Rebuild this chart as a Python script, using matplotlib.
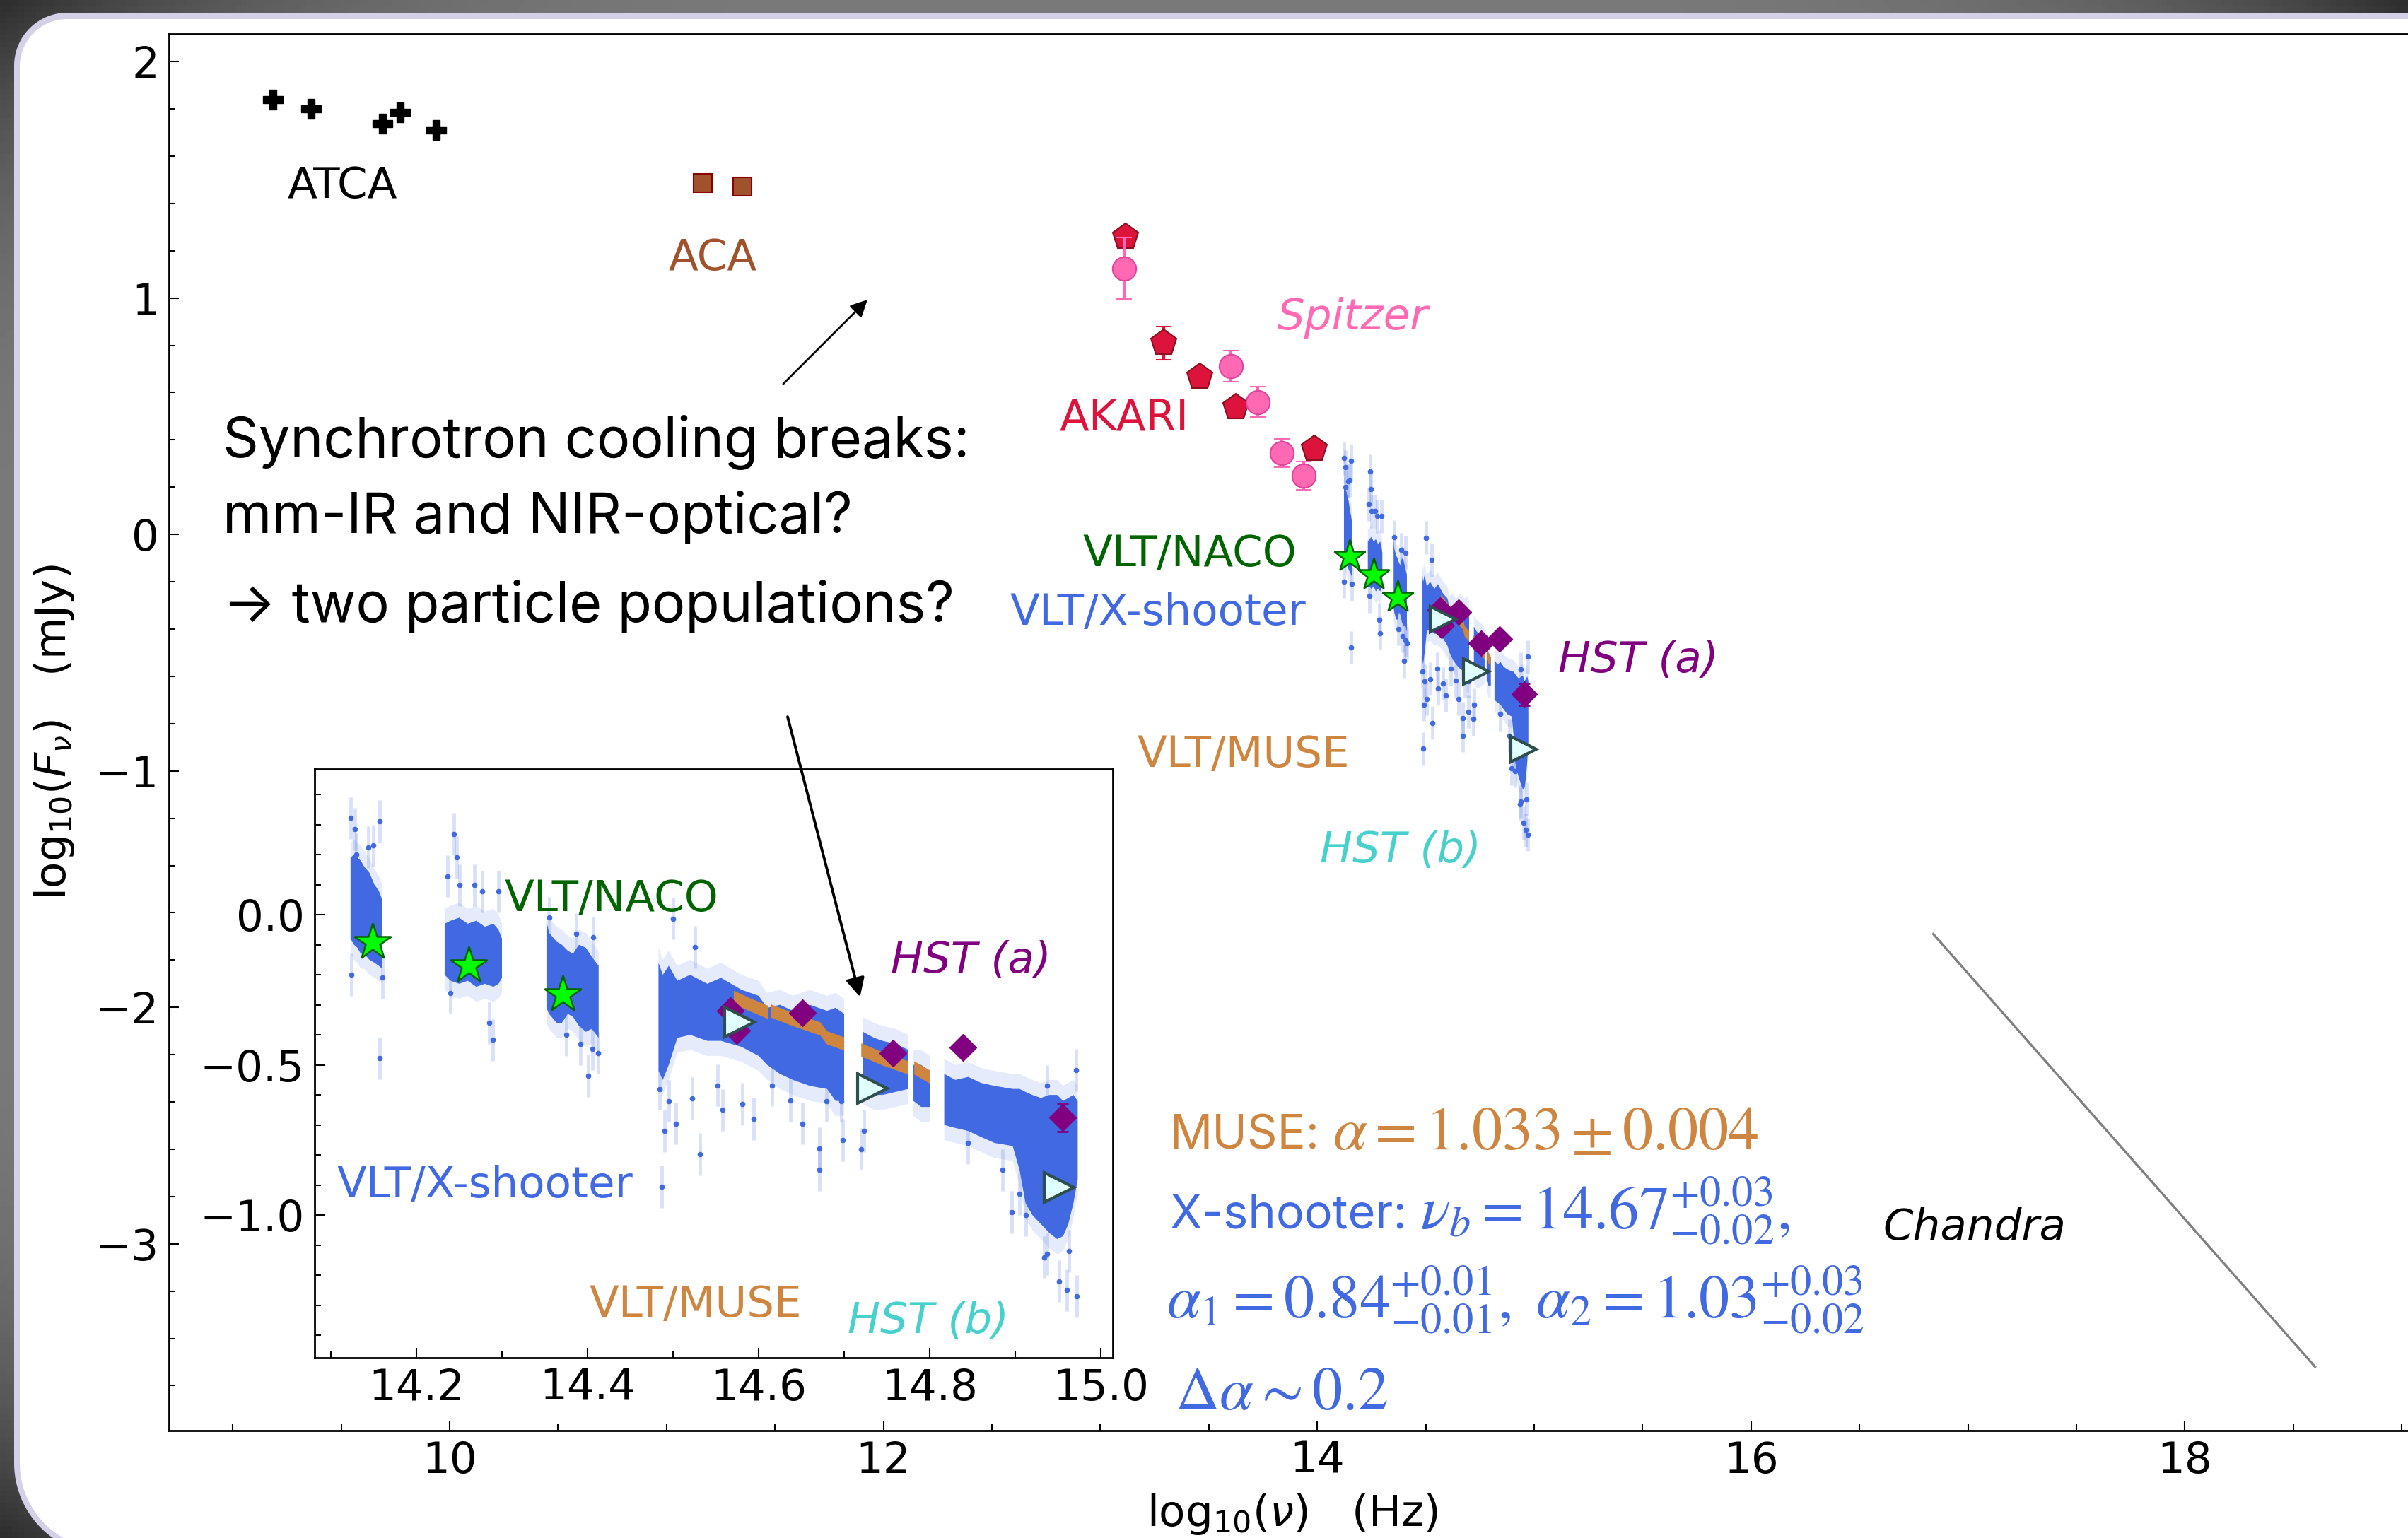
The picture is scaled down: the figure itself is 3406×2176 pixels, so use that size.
import numpy as np
import matplotlib
matplotlib.use("Agg")
import matplotlib.pyplot as plt
from matplotlib.patches import Polygon
from matplotlib.ticker import MultipleLocator

nan = np.nan

# ---- photometry: log10(nu / Hz), log10(F_nu / mJy) ----
atca_x = [9.185, 9.361, 9.690, 9.772, 9.938]
atca_y = [1.839, 1.800, 1.737, 1.785, 1.710]

aca_x = [11.167, 11.349]
aca_y = [1.486, 1.471]

akari_x = [13.115, 13.292, 13.459, 13.626, 13.987]
akari_y = [1.259, 0.810, 0.668, 0.538, 0.362]
akari_err = [0.03, 0.07, 0.03, 0.03, 0.03]

spitzer_x = [13.110, 13.602, 13.727, 13.837, 13.937]
spitzer_y = [1.126, 0.712, 0.561, 0.344, 0.249]
spitzer_err = [0.13, 0.066, 0.063, 0.060, 0.060]

naco_x = [14.149, 14.261, 14.371]
naco_y = [-0.092, -0.169, -0.266]

hst_a_x = [14.567, 14.574, 14.651, 14.757, 14.839, 14.955]
hst_a_y = [-0.319, -0.385, -0.327, -0.461, -0.442, -0.676]
hst_a_err = [0.0, 0.0, 0.0, 0.0, 0.0, 0.047]

hst_b_x = [14.578, 14.733, 14.951]
hst_b_y = [-0.358, -0.578, -0.909]

# X-shooter spectrum: dense envelope per arm chunk (NaN = gap)
xs_x = [14.123, 14.127, 14.131, 14.135, 14.139, 14.145, 14.151, 14.156, 14.160, nan,
        14.233, 14.240, 14.250, 14.260, 14.270, 14.280, 14.290, 14.296, 14.300, nan,
        14.352, 14.355, 14.358, 14.364, 14.370, 14.377, 14.383, 14.390, 14.398, 14.405, 14.413, nan,
        14.483, 14.488, 14.495, 14.505, 14.520, 14.540, 14.556, 14.580, 14.600, 14.610,
        14.625, 14.640, 14.660, 14.680, 14.690, 14.700, nan,
        14.722, 14.735, 14.745, 14.760, 14.775, nan,
        14.781, 14.790, 14.800, nan,
        14.817, 14.830, 14.845, 14.860, 14.876, 14.897, 14.905, 14.912, 14.920, 14.930,
        14.940, 14.949, 14.956, 14.962, 14.968, 14.973]
xs_top = [0.19, 0.20, 0.19, 0.18, 0.16, 0.14, 0.10, 0.08, 0.05, nan,
          -0.03, -0.02, -0.01, -0.03, -0.02, -0.04, -0.03, -0.05, -0.08, nan,
          -0.02, -0.06, -0.07, -0.09, -0.10, -0.12, -0.13, -0.10, -0.11, -0.14, -0.17, nan,
          -0.16, -0.20, -0.17, -0.22, -0.20, -0.23, -0.21, -0.25, -0.27, -0.31,
          -0.30, -0.32, -0.30, -0.32, -0.31, -0.33, nan,
          -0.39, -0.41, -0.42, -0.43, -0.45, nan,
          -0.50, -0.50, -0.52, nan,
          -0.53, -0.55, -0.54, -0.56, -0.57, -0.58, -0.58, -0.59, -0.60, -0.61,
          -0.60, -0.60, -0.62, -0.61, -0.60, -0.62]
xs_bot = [-0.08, -0.10, -0.11, -0.13, -0.13, -0.15, -0.16, -0.17, -0.18, nan,
          -0.20, -0.22, -0.23, -0.22, -0.24, -0.23, -0.24, -0.23, -0.21, nan,
          -0.31, -0.33, -0.34, -0.36, -0.36, -0.33, -0.34, -0.37, -0.39, -0.38, -0.41, nan,
          -0.52, -0.55, -0.50, -0.41, -0.40, -0.42, -0.42, -0.44, -0.47, -0.50,
          -0.53, -0.55, -0.57, -0.58, -0.62, -0.62, nan,
          -0.58, -0.60, -0.60, -0.59, -0.58, nan,
          -0.62, -0.64, -0.64, nan,
          -0.70, -0.71, -0.72, -0.74, -0.76, -0.77, -0.85, -0.96, -1.00, -1.03,
          -1.06, -1.08, -1.07, -1.03, -0.96, -0.88]

# isolated X-shooter pixels outside the dense envelope
xs_out_x = [14.123, 14.128, 14.130, 14.144, 14.150, 14.157, 14.157, 14.124, 14.160,
            14.236, 14.244, 14.247, 14.250, 14.268, 14.277, 14.285, 14.289, 14.296, 14.240,
            14.355, 14.387, 14.392, 14.401, 14.406, 14.407, 14.375, 14.412,
            14.487, 14.495, 14.500, 14.503, 14.522, 14.526, 14.531, 14.490, 14.484,
            14.552, 14.558, 14.581, 14.594, 14.616, 14.637, 14.651, 14.671, 14.671,
            14.679, 14.697, 14.698, 14.720, 14.723,
            14.845, 14.885, 14.896, 14.905, 14.912, 14.934, 14.937, 14.951, 14.960,
            14.963, 14.972, 14.971, 14.937]
xs_out_y = [0.322, 0.285, 0.200, 0.225, 0.230, 0.311, -0.478, -0.200, -0.210,
            0.128, 0.268, 0.191, 0.098, 0.098, 0.077, -0.360, -0.417, 0.077, -0.260,
            -0.010, -0.064, -0.430, -0.536, -0.447, -0.076, -0.400, -0.460,
            -0.906, -0.620, -0.013, -0.695, -0.612, -0.108, -0.797, -0.720, -0.580,
            -0.568, -0.650, -0.630, -0.680, -0.568, -0.619, -0.695, -0.778, -0.850,
            -0.620, -0.620, -0.750, -0.780, -0.720,
            -0.760, -0.850, -0.990, -0.930, -1.000, -1.140, -1.130, -1.220, -1.250,
            -1.120, -1.270, -0.517, -0.570]

# MUSE spectrum (NaN = gap)
muse_x = [14.571, 14.590, 14.611, nan, 14.614, 14.641, 14.672, 14.680, 14.700, nan,
          14.720, 14.745, 14.775, nan, 14.782, 14.800]
muse_y = [-0.275, -0.300, -0.325, nan, -0.320, -0.350, -0.380, -0.410, -0.430, nan,
          -0.450, -0.480, -0.510, nan, -0.510, -0.540]

chandra_x = [16.84, 18.60]
chandra_y = [-1.69, -3.52]

W, H = 3406, 2176
plt.rcParams["font.family"] = "DejaVu Sans"
plt.rcParams["font.size"] = 44
SANS = ["Inter", "DejaVu Sans"]

fig = plt.figure(figsize=(W / 100, H / 100), dpi=100)

# slide background: grey vignette + rounded white panel with lavender rim
bg = fig.add_axes([0, 0, 1, 1], zorder=-5)
u, v = np.meshgrid(np.linspace(-1, 1, 400), np.linspace(-1, 1, 260))
shade = 0.48 - 0.30 * np.abs(u) ** 4 * np.abs(v) ** 4
bg.imshow(shade, cmap="gray", vmin=0, vmax=1, extent=[0, W, H, 0], aspect="auto")


def panel(x0, y0, x1, y1, r_tl, r_bl):
    t = np.linspace(0, np.pi / 2, 40)
    tl = np.column_stack([x0 + r_tl - r_tl * np.cos(t), y0 + r_tl - r_tl * np.sin(t)])
    bl = np.column_stack([x0 + r_bl - r_bl * np.sin(t), y1 - r_bl + r_bl * np.cos(t)])
    return np.vstack([tl, [(x1, y0), (x1, y1)], bl])


bg.add_patch(Polygon(panel(20, 18, W + 200, 2200, 75, 130), closed=True, fc="#d4d0e8", ec="none"))
bg.add_patch(Polygon(panel(28, 27, W + 200, 2192, 67, 122), closed=True, fc="white", ec="none"))
bg.set_xlim(0, W)
bg.set_ylim(H, 0)
bg.axis("off")

# main SED axes (right edge runs past the slide)
ax = fig.add_axes([239 / W, (H - 2024) / H, (3489 - 239) / W, (2024 - 48) / H])
ax.set_xlim(8.706, 19.299)
ax.set_ylim(-3.79, 2.117)

# zoomed inset on the NIR-optical part
axins = fig.add_axes([445 / W, (H - 1921) / H, (1574 - 445) / W, (1921 - 1088) / H])
axins.set_xlim(14.081, 15.014)
axins.set_ylim(-1.475, 0.485)


def draw_optical(a, star_ms, dia_ms, tri_ms):
    xx = np.array(xs_x)
    top = np.array(xs_top)
    bot = np.array(xs_bot)
    a.fill_between(xx, bot - 0.05, top + 0.05, color="royalblue", alpha=0.13, lw=0, zorder=1.5)
    a.fill_between(xx, bot, top, color="royalblue", lw=0, zorder=2)
    a.errorbar(xs_out_x, xs_out_y, yerr=0.07, fmt="o", ms=4.5, color="royalblue",
               ecolor=(0.255, 0.41, 0.882, 0.2), elinewidth=3.5, capsize=0, zorder=2)
    my = np.array(muse_y)
    a.fill_between(muse_x, my - 0.022, my + 0.022, color="peru", lw=0, zorder=2.5)
    a.plot(naco_x, naco_y, ls="none", marker="*", ms=star_ms, mfc="lime", mec="darkgreen",
           mew=1.8, zorder=4)
    a.errorbar(hst_a_x, hst_a_y, yerr=hst_a_err, fmt="D", ms=dia_ms, color="purple",
               mec="purple", capsize=6, capthick=2, elinewidth=2, zorder=5)
    a.plot(hst_b_x, hst_b_y, ls="none", marker=">", ms=tri_ms, mfc="lightcyan",
           mec="darkslategray", mew=3, zorder=6)


ax.plot(atca_x, atca_y, ls="none", marker="P", ms=20, color="black", zorder=3)
ax.plot(aca_x, aca_y, ls="none", marker="s", ms=19, mfc="sienna", mec="darkred", mew=1.5, zorder=3)
ax.errorbar(akari_x, akari_y, yerr=akari_err, fmt="p", ms=28, color="crimson", mec="#8b1020",
            mew=1.5, capsize=8, capthick=3, elinewidth=3, zorder=3)
ax.errorbar(spitzer_x, spitzer_y, yerr=spitzer_err, fmt="o", ms=24, color="hotpink",
            mec="#e0449c", mew=1.5, capsize=8, capthick=3, elinewidth=3, zorder=3.5)
draw_optical(ax, 34, 18, 26)
ax.plot(chandra_x, chandra_y, color="gray", lw=2.4)

draw_optical(axins, 39, 19, 30)

# labels in the main panel
ax.text(9.505, 1.474, "ATCA", color="black", ha="center", va="center")
ax.text(11.212, 1.169, "ACA", color="sienna", ha="center", va="center")
ax.text(14.164, 0.916, "Spitzer", color="hotpink", style="italic", ha="center", va="center")
ax.text(13.109, 0.487, "AKARI", color="crimson", ha="center", va="center")
ax.text(13.413, -0.084, "VLT/NACO", color="darkgreen", ha="center", va="center")
ax.text(13.265, -0.332, "VLT/X-shooter", color="royalblue", ha="center", va="center")
ax.text(15.481, -0.532, "HST (a)", color="purple", style="italic", ha="center", va="center")
ax.text(13.661, -0.934, "VLT/MUSE", color="peru", ha="center", va="center")
ax.text(14.384, -1.337, "HST (b)", color="mediumturquoise", style="italic", ha="center", va="center")
ax.text(17.031, -2.935, "Chandra", color="black", style="italic", ha="center", va="center")

# labels in the inset
axins.text(14.428, 0.050, "VLT/NACO", color="darkgreen", ha="center", va="center")
axins.text(14.848, -0.155, "HST (a)", color="purple", style="italic", ha="center", va="center")
axins.text(14.280, -0.901, "VLT/X-shooter", color="royalblue", ha="center", va="center")
axins.text(14.526, -1.300, "VLT/MUSE", color="peru", ha="center", va="center")
axins.text(14.798, -1.355, "HST (b)", color="mediumturquoise", style="italic", ha="center", va="center")

# axes styling
for a in (ax, axins):
    a.tick_params(which="both", direction="in", top=False, right=False, labelsize=44,
                  width=1.5, pad=10)
    a.tick_params(which="major", length=10)
    a.tick_params(which="minor", length=6.5)
    for s in a.spines.values():
        s.set_linewidth(2)
ax.xaxis.set_major_locator(MultipleLocator(2))
ax.xaxis.set_minor_locator(MultipleLocator(0.5))
ax.yaxis.set_major_locator(MultipleLocator(1))
ax.yaxis.set_minor_locator(MultipleLocator(0.2))
axins.xaxis.set_major_locator(MultipleLocator(0.2))
axins.xaxis.set_minor_locator(MultipleLocator(0.1))
axins.yaxis.set_major_locator(MultipleLocator(0.5))
axins.yaxis.set_minor_locator(MultipleLocator(0.1))

ax.set_xlabel(r"$\mathrm{log}_{10}(\nu)$   (Hz)", fontsize=44)
ax.xaxis.set_label_coords(0.489, -0.044)
ax.set_ylabel(r"$\mathrm{log}_{10}(F_{\nu})$   (mJy)", fontsize=44)
ax.yaxis.set_label_coords(-0.0403, 0.5)

# arrows to the two cooling breaks
ax.annotate("", xy=(11.926, 0.993), xytext=(11.538, 0.637),
            arrowprops=dict(arrowstyle="-|>", color="black", lw=2, mutation_scale=36,
                            shrinkA=0, shrinkB=0))
axins.annotate("", xy=(14.7185, -0.274), xycoords="data", xytext=(11.558, -0.771),
               textcoords=ax.transData, annotation_clip=False,
               arrowprops=dict(arrowstyle="-|>", color="black", lw=2.8, mutation_scale=40,
                               shrinkA=0, shrinkB=0))

# slide text
fig.text(315 / W, 1 - 626 / H, "Synchrotron cooling breaks:", family=SANS, fontsize=57,
         va="center", ha="left")
fig.text(315 / W, 1 - 732 / H, "mm-IR and NIR-optical?", family=SANS, fontsize=57,
         va="center", ha="left")
fig.text(315 / W, 1 - 858 / H, "\u2192 two particle populations?", family=SANS, fontsize=57,
         va="center", ha="left")

renderer = fig.canvas.get_renderer()


def fit_line(prefix, math, x_px, base_px, color):
    x = x_px
    if prefix:
        t = fig.text(x / W, 1 - base_px / H, prefix, family=SANS, fontsize=48, color=color,
                     va="baseline", ha="left")
        x = t.get_window_extent(renderer).x1 + 19
    fig.text(x / W, 1 - base_px / H, math, fontsize=62, math_fontfamily="stix", color=color,
             va="baseline", ha="left")


fit_line("MUSE:", r"$\alpha = 1.033 \pm 0.004$", 1654, 1626, "peru")
fit_line("X-shooter:", r"$\nu_b = 14.67^{+0.03}_{-0.02},$", 1654, 1738, "royalblue")
fit_line("", r"$\alpha_1 = 0.84^{+0.01}_{-0.01},\ \alpha_2 = 1.03^{+0.03}_{-0.02}$", 1650, 1864,
         "royalblue")
fit_line("", r"$\Delta\alpha \sim 0.2$", 1662, 1994, "royalblue")

fig.savefig("out.png", dpi=100)
